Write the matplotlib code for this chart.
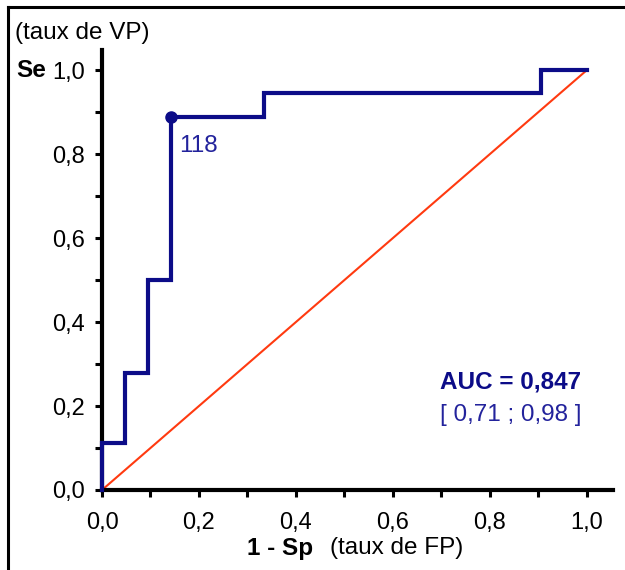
import numpy as np
import matplotlib
matplotlib.use('Agg')
import matplotlib.pyplot as plt
from matplotlib.lines import Line2D
from matplotlib.ticker import MultipleLocator, FuncFormatter

plt.rcParams['font.family'] = ['Liberation Sans', 'DejaVu Sans']

# Courbe ROC : 18 malades (VP) et 21 non-malades (FP)
fp_rate = [0.0, 0.0, 1/21, 1/21, 2/21, 2/21, 3/21, 3/21, 7/21, 7/21, 19/21, 19/21, 1.0]
vp_rate = [0.0, 2/18, 2/18, 5/18, 5/18, 9/18, 9/18, 16/18, 16/18, 17/18, 17/18, 1.0, 1.0]

seuil_label = '118'
seuil_fp = 3/21
seuil_vp = 16/18

auc = 0.847
ic_bas, ic_haut = 0.71, 0.98

NAVY = '#0c0c88'
TXT_BLUE = '#23239c'
RED = '#ff3a10'


def virgule(v, pos):
    return f'{v:.1f}'.replace('.', ',')


fig = plt.figure(figsize=(6.25, 5.7), dpi=100)
ax = fig.add_axes([0.1632, 0.1404, 0.8176, 0.7719])

ax.plot([0, 1], [0, 1], color=RED, lw=1.5, zorder=2)
ax.plot(fp_rate, vp_rate, color=NAVY, lw=3.0, solid_joinstyle='miter',
        zorder=3, clip_on=False)
ax.plot([seuil_fp], [seuil_vp], 'o', color=NAVY, ms=8, zorder=4)
ax.text(seuil_fp + 0.016, seuil_vp - 0.07, seuil_label, color=TXT_BLUE,
        fontsize=17.5, ha='left', va='center')

ax.text(0.843, 0.258, f'AUC = {auc:.3f}'.replace('.', ','), color=NAVY,
        fontsize=17.5, fontweight='bold', ha='center', va='center')
ax.text(0.843, 0.178,
        f'[ {ic_bas:.2f} ; {ic_haut:.2f} ]'.replace('.', ','),
        color=TXT_BLUE, fontsize=17.5, ha='center', va='center')

ax.set_xlim(0, 1.054)
ax.set_ylim(0, 1.048)
for side in ('top', 'right'):
    ax.spines[side].set_visible(False)
for side in ('left', 'bottom'):
    ax.spines[side].set_linewidth(3.0)

ax.xaxis.set_major_locator(MultipleLocator(0.2))
ax.xaxis.set_minor_locator(MultipleLocator(0.1))
ax.yaxis.set_major_locator(MultipleLocator(0.2))
ax.yaxis.set_minor_locator(MultipleLocator(0.1))
ax.xaxis.set_major_formatter(FuncFormatter(virgule))
ax.yaxis.set_major_formatter(FuncFormatter(virgule))
ax.tick_params(which='both', direction='out', length=5, width=2.2,
               color='black', labelsize=17)
ax.tick_params(axis='x', pad=11)
ax.tick_params(axis='y', pad=7)

# libellés d'axes
fig.text(0.024, 0.942, '(taux de VP)', fontsize=17.5, ha='left', va='center')
fig.text(0.026, 0.877, 'Se', fontsize=17.5, fontweight='bold',
         ha='left', va='center')
fig.text(0.395, 0.038, '1 - Sp', fontsize=17.5, fontweight='bold',
         ha='left', va='center')
fig.text(0.528, 0.038, '(taux de FP)', fontsize=17.5, ha='left', va='center')

# cadre gauche et haut
fig.add_artist(Line2D([0.0128, 0.0128], [0.0, 0.988], color='black',
                      lw=2.2, transform=fig.transFigure))
fig.add_artist(Line2D([0.0128, 1.0], [0.988, 0.988], color='black',
                      lw=2.2, transform=fig.transFigure))

fig.savefig('out.png', dpi=100)
